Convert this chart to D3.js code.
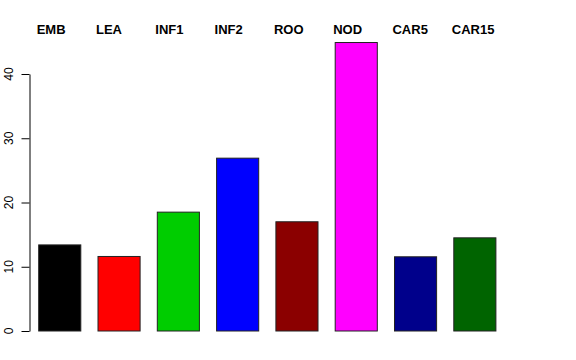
<!DOCTYPE html>
<html>
<head>
<meta charset="utf-8">
<script src="https://cdn.jsdelivr.net/npm/d3@7"></script>
<style>
  body { margin: 0; background: #fff; }
  svg { display: block; font-family: "Liberation Sans", Arial, Helvetica, sans-serif; }
</style>
</head>
<body>
<div id="chart"></div>
<script>
let categories = ['EMB', 'LEA', 'INF1', 'INF2', 'ROO', 'NOD', 'CAR5', 'CAR15'];
let values = [13.4, 11.6, 18.5, 26.9, 17.0, 44.9, 11.55, 14.5];
let barColors = ['#000000', '#FF0000', '#00CD00', '#0000FF', '#8B0000', '#FF00FF', '#00008B', '#006400'];
let yTicks = [0, 10, 20, 30, 40];

let width = 576, height = 360;

let svg = d3.select('#chart').append('svg')
  .attr('width', width)
  .attr('height', height);

let x = d3.scaleBand()
  .domain(categories)
  .range([29.6, 504.0])
  .paddingInner(0.29)
  .paddingOuter(0.145);

let y = d3.scaleLinear()
  .domain([0, 40])
  .range([331, 74]);

// bars
svg.selectAll('rect.bar')
  .data(categories)
  .enter().append('rect')
  .attr('class', 'bar')
  .attr('x', d => x(d) + 0.5)
  .attr('y', (d, i) => y(values[i]))
  .attr('width', x.bandwidth())
  .attr('height', (d, i) => y(0) - y(values[i]))
  .style('fill', (d, i) => barColors[i])
  .style('stroke', '#222')
  .style('stroke-width', 1);

// labels on top
svg.selectAll('text.lab')
  .data(categories)
  .enter().append('text')
  .attr('class', 'lab')
  .attr('x', d => x(d) - 1.5)
  .attr('y', 34)
  .style('font-size', '13px')
  .style('font-weight', 'bold')
  .text(d => d);

// y axis, R style
let yAxis = d3.axisLeft(y)
  .tickValues(yTicks)
  .tickSize(8)
  .tickSizeOuter(0);

let g = svg.append('g')
  .attr('transform', 'translate(29.5,0)')
  .call(yAxis);

g.select('.domain').attr('stroke', '#000');
g.selectAll('.tick line').attr('stroke', '#000');
g.selectAll('.tick text')
  .attr('x', 0)
  .attr('dy', 0)
  .attr('transform', d => 'translate(-17,' + y(d) + ') rotate(-90)')
  .attr('y', 0)
  .attr('text-anchor', 'middle')
  .style('font-size', '12px')
  .style('font-family', '"Liberation Sans", Arial, sans-serif')
  .attr('fill', '#000');
g.selectAll('.tick').attr('transform', null);
g.selectAll('.tick line').attr('transform', d => 'translate(0,' + (y(d) + 0.5) + ')');
</script>
</body>
</html>
